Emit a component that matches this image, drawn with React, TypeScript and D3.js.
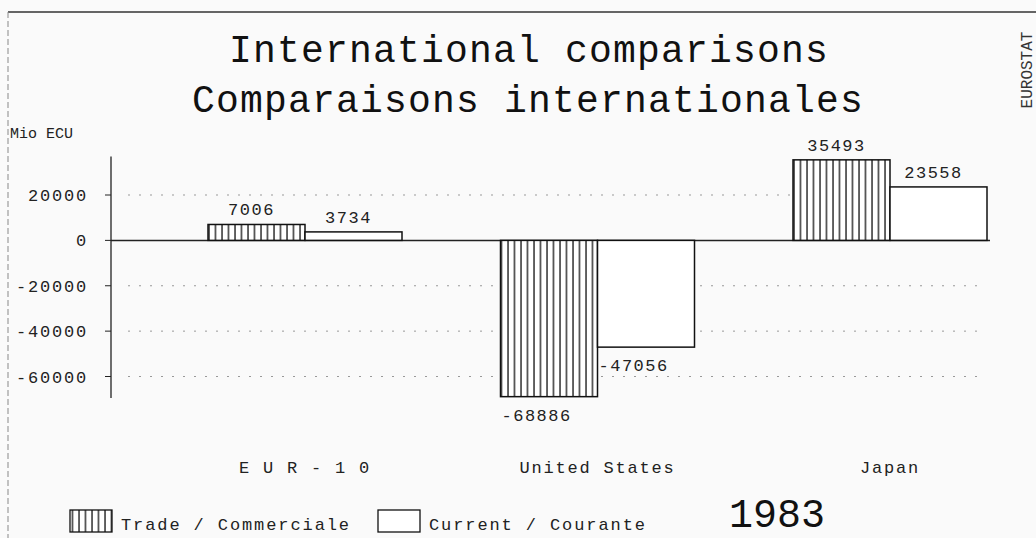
import React, { useEffect, useRef } from "react";
import * as d3 from "d3";

const categories = ["E U R - 1 0", "United States", "Japan"];
const seriesNames = ["Trade / Commerciale", "Current / Courante"];
const tradeValues = [7006, -68886, 35493];
const currentValues = [3734, -47056, 23558];
const tickValues = [20000, 0, -20000, -40000, -60000];
const gridValues = [20000, -20000, -40000, -60000];

const FONT = "'Liberation Mono', 'DejaVu Sans Mono', monospace";

const App = () => {
  const ref = useRef<SVGSVGElement | null>(null);

  useEffect(() => {
    const width = 1036;
    const height = 538;
    const svg = d3.select(ref.current).attr("width", width).attr("height", height);
    svg.selectAll("*").remove();

    // background + hatch pattern
    svg.append("rect").attr("width", width).attr("height", height).attr("fill", "#fafafa");
    const defs = svg.append("defs");
    const pat = defs
      .append("pattern")
      .attr("id", "hatch")
      .attr("patternUnits", "userSpaceOnUse")
      .attr("width", 6.5)
      .attr("height", 10);
    pat.append("rect").attr("width", 6.5).attr("height", 10).attr("fill", "#fff");
    pat.append("line").attr("x1", 1).attr("x2", 1).attr("y1", 0).attr("y2", 10)
      .attr("stroke", "#111").attr("stroke-width", 1.3);

    // frame
    svg.append("line").attr("x1", 8).attr("x2", width).attr("y1", 12).attr("y2", 12)
      .attr("stroke", "#333").attr("stroke-width", 1.5);
    svg.append("line").attr("x1", 8).attr("x2", 8).attr("y1", 12).attr("y2", height)
      .attr("stroke", "#888").attr("stroke-dasharray", "6 3");

    // titles
    const title = svg.append("g").attr("font-family", FONT).attr("fill", "#111")
      .attr("text-anchor", "middle").attr("font-size", 38).attr("letter-spacing", 1.2);
    title.append("text").attr("x", 529).attr("y", 62).text("International comparisons");
    title.append("text").attr("x", 528).attr("y", 112).text("Comparaisons internationales");

    svg.append("text").attr("transform", "translate(1032,70) rotate(-90)")
      .attr("text-anchor", "middle").attr("font-family", FONT).attr("font-size", 16)
      .attr("fill", "#333").text("EUROSTAT");

    const y = d3.scaleLinear().domain([-60000, 20000]).range([376.5, 195]);
    const x = d3.scalePoint<string>().domain(categories).range([305, 890]);
    const xs = d3.scaleBand<string>().domain(seriesNames).range([-97, 97]);

    const axisX = 111;
    const g = svg.append("g").attr("font-family", FONT).attr("fill", "#222");

    g.append("text").attr("x", 10).attr("y", 138).attr("font-size", 15)
      .text("Mio ECU");

    // grid
    g.selectAll(".grid").data(gridValues).enter().append("line")
      .attr("x1", 128).attr("x2", 985)
      .attr("y1", (d) => y(d)).attr("y2", (d) => y(d))
      .attr("stroke", "#999").attr("stroke-dasharray", "2 9");

    // y axis
    g.append("line").attr("x1", axisX).attr("x2", axisX)
      .attr("y1", y(37000)).attr("y2", y(-69500))
      .attr("stroke", "#222").attr("stroke-width", 1.3);
    g.selectAll(".tick").data(tickValues).enter().append("line")
      .attr("x1", axisX - 6).attr("x2", axisX)
      .attr("y1", (d) => y(d)).attr("y2", (d) => y(d))
      .attr("stroke", "#222");
    g.selectAll(".tl").data(tickValues).enter().append("text")
      .attr("x", 88).attr("y", (d) => y(d) + 6)
      .attr("text-anchor", "end").attr("font-size", 17).attr("letter-spacing", 1.8)
      .text((d) => String(d));

    // zero line
    g.append("line").attr("x1", axisX).attr("x2", 990)
      .attr("y1", y(0)).attr("y2", y(0)).attr("stroke", "#222").attr("stroke-width", 1.5);

    const series = [tradeValues, currentValues];
    series.forEach((vals, si) => {
      const name = seriesNames[si];
      categories.forEach((c, ci) => {
        const v = vals[ci];
        const bx = (x(c) as number) + (xs(name) as number);
        const bw = xs.bandwidth();
        g.append("rect")
          .attr("x", bx).attr("width", bw)
          .attr("y", Math.min(y(v), y(0))).attr("height", Math.abs(y(v) - y(0)))
          .attr("fill", si === 0 ? "url(#hatch)" : "#fff")
          .attr("stroke", "#111").attr("stroke-width", 1.5);
        const lbl = g.append("text").attr("font-size", 17).attr("letter-spacing", 1.5)
          .text(String(v));
        if (v >= 0) {
          lbl.attr("x", bx + bw / 2 - 5).attr("y", y(v) - 9).attr("text-anchor", "middle");
        } else {
          lbl.attr("x", bx + 1).attr("y", y(v) + 24).attr("text-anchor", "start");
        }
      });
    });

    // category labels
    g.selectAll(".cat").data(categories).enter().append("text")
      .attr("x", (d) => x(d) as number).attr("y", 473)
      .attr("text-anchor", "middle").attr("font-size", 17).attr("letter-spacing", 1.8)
      .text((d) => d);

    // legend
    const legendX = [70, 378];
    seriesNames.forEach((n, i) => {
      g.append("rect").attr("x", legendX[i]).attr("y", 510).attr("width", 42).attr("height", 22)
        .attr("fill", i === 0 ? "url(#hatch)" : "#fff").attr("stroke", "#111").attr("stroke-width", 1.3);
      g.append("text").attr("x", legendX[i] + 51).attr("y", 530)
        .attr("font-size", 17).attr("letter-spacing", 1.9).text(n);
    });

    g.append("text").attr("x", 777).attr("y", 527).attr("text-anchor", "middle")
      .attr("font-size", 40).attr("fill", "#111").text("1983");
  }, []);

  return <svg ref={ref} style={{ display: "block", position: "absolute", left: 0, top: 0 }}></svg>;
};

export default App;
